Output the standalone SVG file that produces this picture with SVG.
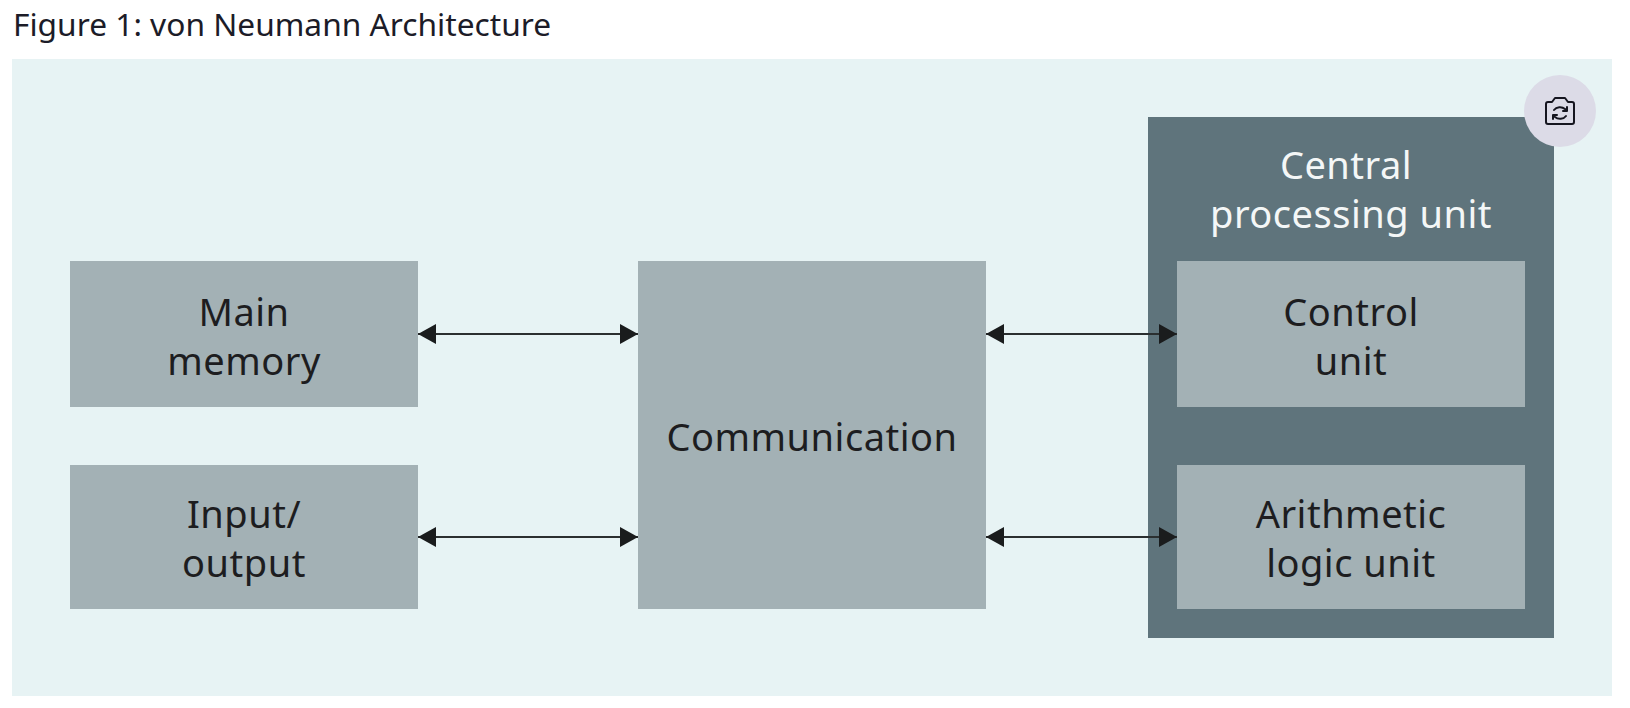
<svg xmlns="http://www.w3.org/2000/svg" width="1630" height="708" viewBox="0 0 1630 708">
<style>
.box{fill:#a3b1b5}
.lbl{font-family:"Noto Sans","Open Sans",sans-serif;font-size:38px;letter-spacing:.5px;fill:#1d1d1f;text-anchor:middle}
.w{fill:#f4f7f7}
.conn{stroke:#2b2f30;stroke-width:2.2;fill:none;marker-start:url(#hs);marker-end:url(#he)}
</style>
<defs>
<marker id="he" markerUnits="userSpaceOnUse" markerWidth="18" markerHeight="20" refX="18" refY="10" orient="auto"><path d="M0 0L18 10L0 20Z" fill="#1a1c1d"/></marker>
<marker id="hs" markerUnits="userSpaceOnUse" markerWidth="18" markerHeight="20" refX="0" refY="10" orient="auto"><path d="M18 0L0 10L18 20Z" fill="#1a1c1d"/></marker>
</defs>
<rect width="1630" height="708" fill="#ffffff"/>
<text id="caption" x="13" y="36" style="font-family:'Noto Sans','Open Sans',sans-serif;font-size:31.7px;fill:#1c1c28">Figure 1: von Neumann Architecture</text>
<rect id="panel" x="12" y="59" width="1600" height="637" fill="#e7f3f4"/>
<g id="cpu"><rect x="1148" y="117" width="406" height="521" fill="#5f747c"/>
<text class="lbl w" x="1346" y="179">Central</text><text class="lbl w" x="1351" y="228">processing unit</text></g>
<g id="main-memory"><rect class="box" x="70" y="261" width="348" height="146"/><text class="lbl" x="244" y="326">Main</text><text class="lbl" x="244" y="375">memory</text></g>
<g id="input-output"><rect class="box" x="70" y="465" width="348" height="144"/><text class="lbl" x="244" y="528">Input/</text><text class="lbl" x="244" y="577">output</text></g>
<g id="communication"><rect class="box" x="638" y="261" width="348" height="348"/><text class="lbl" x="812" y="451">Communication</text></g>
<g id="control-unit"><rect class="box" x="1177" y="261" width="348" height="146"/><text class="lbl" x="1351" y="326">Control</text><text class="lbl" x="1351" y="375">unit</text></g>
<g id="alu"><rect class="box" x="1177" y="465" width="348" height="144"/><text class="lbl" x="1351" y="528">Arithmetic</text><text class="lbl" x="1351" y="577">logic unit</text></g>
<g id="connectors">
<line class="conn" x1="418" y1="334" x2="638" y2="334"/>
<line class="conn" x1="418" y1="537" x2="638" y2="537"/>
<line class="conn" x1="986" y1="334" x2="1177" y2="334"/>
<line class="conn" x1="986" y1="537" x2="1177" y2="537"/>
</g>
<g id="camera-button"><circle cx="1560" cy="111" r="36" fill="#dcdbe7"/>
<g fill="none" stroke="#15151f" stroke-width="2" stroke-linejoin="round" stroke-linecap="round">
<path d="M1548 102h4l3-4h10l3 4h4a2 2 0 0 1 2 2v18a2 2 0 0 1-2 2h-24a2 2 0 0 1-2-2v-18a2 2 0 0 1 2-2z"/>
<path d="M1554 110a7 6 0 0 1 11-1l2 2M1567 107v4h-4M1566 116a7 6 0 0 1-11 1l-2-2M1553 119v-4h4"/>
</g></g>
</svg>
